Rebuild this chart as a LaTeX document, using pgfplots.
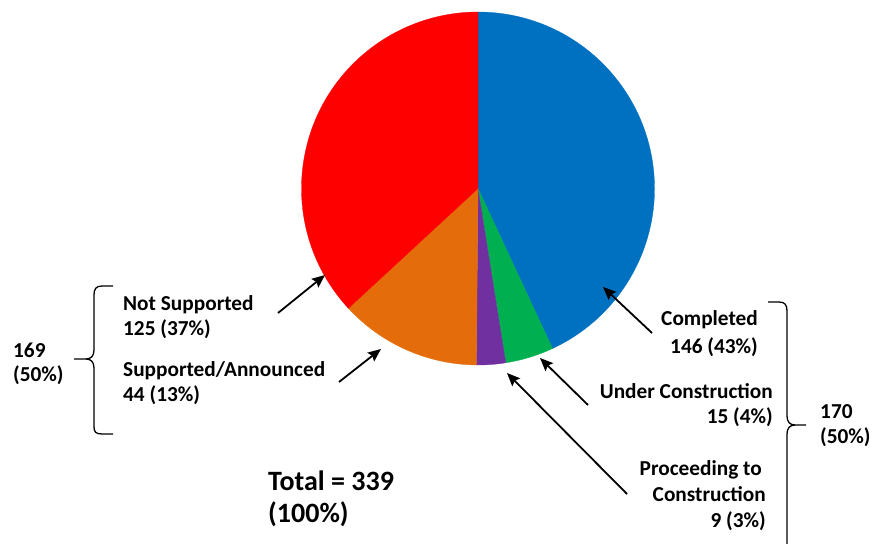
\documentclass[border=0pt]{standalone}
\usepackage{pgfplots}
\pgfplotsset{compat=1.18}
\usepackage{fontspec}
\setmainfont{Carlito}
\usetikzlibrary{arrows.meta}
\definecolor{cblue}{HTML}{0070C0}
\definecolor{cgreen}{HTML}{00B050}
\definecolor{cpurple}{HTML}{7030A0}
\definecolor{corange}{HTML}{E46C0A}
\definecolor{cred}{HTML}{FF0000}
% slice: cumulative start value, cumulative end value, colour (total = 339)
\newcommand\slice[3]{%
  \fill[#3,draw=#3,line width=0.3bp] (axis cs:478,188.5) -- ++({90-#1/339*360}:176.5bp)
    arc[start angle={90-#1/339*360}, end angle={90-#2/339*360}, radius=176.5bp] -- cycle;}
\newcommand\lblfont{\fontsize{21.3bp}{25bp}\selectfont\bfseries}
\newcommand\totfont{\fontsize{28bp}{32bp}\selectfont\bfseries}
\begin{document}
\begin{tikzpicture}
\begin{axis}[x=1bp, y=1bp, xmin=0, xmax=872, ymin=0, ymax=544, y dir=reverse,
  hide axis, clip=false, axis lines=none]
% values: Completed 146, Under Construction 15, Proceeding 9, Supported/Announced 44, Not Supported 125
\slice{0}{146}{cblue}
\slice{146}{161}{cgreen}
\slice{161}{170}{cpurple}
\slice{170}{214}{corange}
\slice{214}{339}{cred}
% labels left
\node[anchor=base west, inner sep=0] at (axis cs:123,311) {\lblfont Not Supported};
\node[anchor=base west, inner sep=0] at (axis cs:123,336) {\lblfont 125 (37\%)};
\node[anchor=base west, inner sep=0] at (axis cs:123,376) {\lblfont Supported/Announced};
\node[anchor=base west, inner sep=0] at (axis cs:123,401) {\lblfont 44 (13\%)};
\node[anchor=base west, inner sep=0] at (axis cs:13,357) {\lblfont 169};
\node[anchor=base west, inner sep=0] at (axis cs:13,381) {\lblfont (50\%)};
% labels right
\node[anchor=base east, inner sep=0] at (axis cs:758,326) {\lblfont Completed};
\node[anchor=base east, inner sep=0] at (axis cs:758,353) {\lblfont 146 (43\%)};
\node[anchor=base east, inner sep=0] at (axis cs:773,398) {\lblfont Under Construction};
\node[anchor=base east, inner sep=0] at (axis cs:773,423) {\lblfont 15 (4\%)};
\node[anchor=base east, inner sep=0] at (axis cs:762,475) {\lblfont Proceeding to};
\node[anchor=base east, inner sep=0] at (axis cs:766,501) {\lblfont Construction};
\node[anchor=base east, inner sep=0] at (axis cs:766,527) {\lblfont 9 (3\%)};
\node[anchor=base west, inner sep=0] at (axis cs:820,418) {\lblfont 170};
\node[anchor=base west, inner sep=0] at (axis cs:820,443) {\lblfont (50\%)};
% total
\node[anchor=base west, inner sep=0] at (axis cs:268,490) {\totfont Total = 339};
\node[anchor=base west, inner sep=0] at (axis cs:268,522) {\totfont (100\%)};
% arrows
\begin{scope}[line width=1.8bp, -{Stealth[length=13bp,width=11bp,inset=2bp]}]
\draw (axis cs:278,313) -- (axis cs:325,275);
\draw (axis cs:339,382) -- (axis cs:381,349);
\draw (axis cs:652,333) -- (axis cs:603,287);
\draw (axis cs:588,405) -- (axis cs:540,358);
\draw (axis cs:627,494) -- (axis cs:507,373);
\end{scope}
% braces
\draw[line width=1.3bp] (axis cs:113,286) -- (axis cs:102,286) .. controls (axis cs:96,286) and (axis cs:94,289) .. (axis cs:94,295)
  -- (axis cs:94,350) .. controls (axis cs:94,356) and (axis cs:91,359) .. (axis cs:86,359) -- (axis cs:74,359);
\draw[line width=1.3bp] (axis cs:86,359) .. controls (axis cs:91,359) and (axis cs:94,362) .. (axis cs:94,368)
  -- (axis cs:94,427) .. controls (axis cs:94,432) and (axis cs:96,434) .. (axis cs:102,434) -- (axis cs:113,434);
\draw[line width=1.3bp] (axis cs:768,302) -- (axis cs:779,302) .. controls (axis cs:785,302) and (axis cs:787,305) .. (axis cs:787,311)
  -- (axis cs:787,416) .. controls (axis cs:787,422) and (axis cs:790,425) .. (axis cs:795,425) -- (axis cs:806,425);
\draw[line width=1.3bp] (axis cs:795,425) .. controls (axis cs:790,425) and (axis cs:787,428) .. (axis cs:787,434)
  -- (axis cs:787,544);
\coordinate (bbA) at (axis cs:0,0);
\coordinate (bbB) at (axis cs:872,544);
\end{axis}
\pgfresetboundingbox
\path[use as bounding box] (bbA) rectangle (bbB);
\end{tikzpicture}
\end{document}
